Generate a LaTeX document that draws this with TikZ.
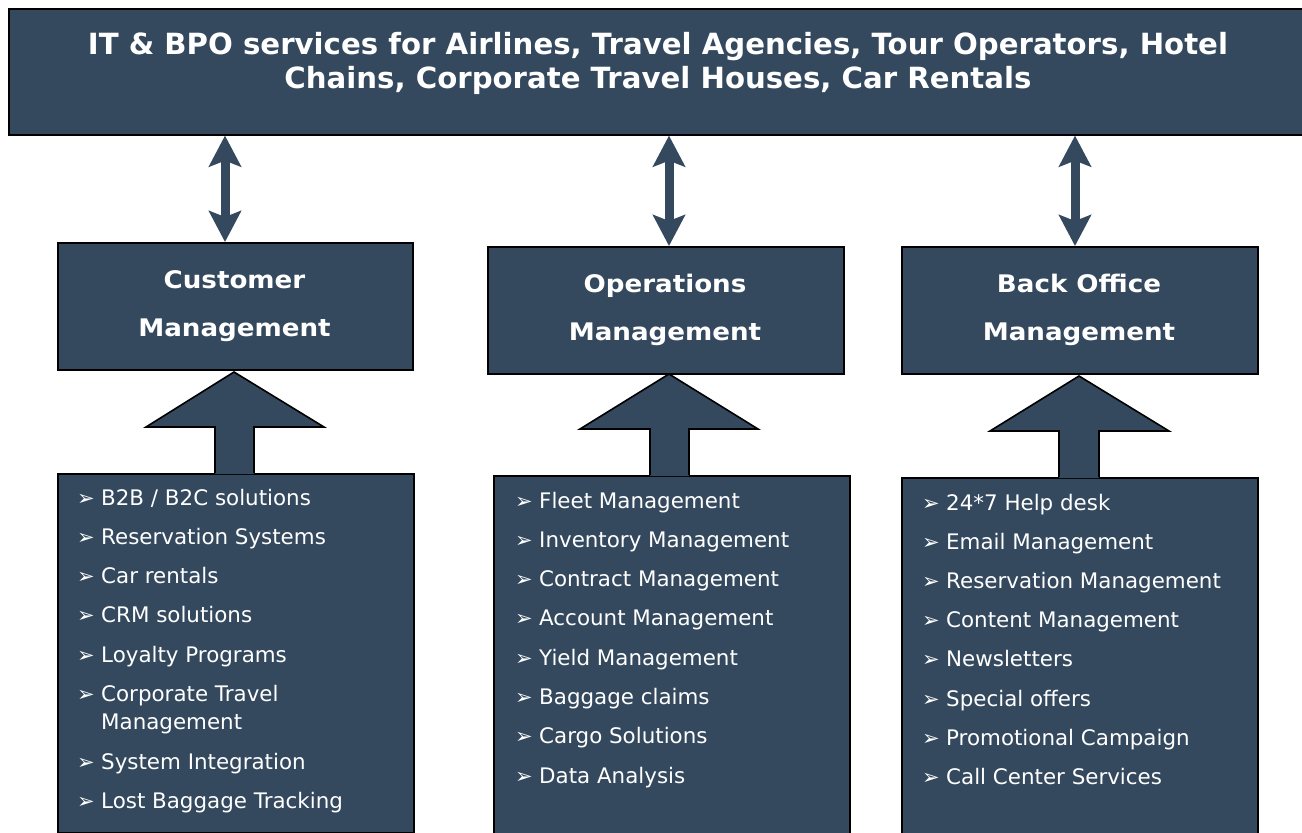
\documentclass[tikz,border=0pt]{standalone}
\usepackage{fontspec}
\setmainfont{DejaVu Sans}
\newfontfamily\bulletfont{DejaVu Sans}
\newfontfamily\hdrfont[FakeStretch=1.08]{DejaVu Sans}
\usetikzlibrary{arrows.meta}
\definecolor{navy}{RGB}{52,73,94}
\begin{document}
\begin{tikzpicture}[x=1pt,y=-1pt,
  box/.style={draw=black, fill=navy, line width=1.6pt, inner sep=0pt, anchor=north west},
  titletext/.style={text=white, font=\bfseries\fontsize{29.2}{34}\selectfont, anchor=base, inner sep=0pt},
  hdrtext/.style={text=white, font=\hdrfont\bfseries\fontsize{24.2}{28}\selectfont, anchor=base, inner sep=0pt},
  itemtext/.style={text=white, font=\fontsize{21.4}{25}\selectfont, anchor=base west, inner sep=0pt},
  bul/.style={text=white, font=\bulletfont\fontsize{21}{24}\selectfont, anchor=base west, inner sep=0pt},
  dblarrow/.style={draw=navy, line width=9pt, {Stealth[length=31pt,width=32pt,inset=6pt]}-{Stealth[length=31pt,width=32pt,inset=6pt]}},
  blockfill/.style={fill=navy},
  blockline/.style={draw=black, line width=1.6pt, line join=miter}
]
\useasboundingbox (0,0) rectangle (1302,833);
\clip (0,0) rectangle (1302,833);

% banner
\node[box, minimum width=1300pt, minimum height=126pt] (banner) at (8,8) {};
\node[titletext] (t1) at (658,54) {IT \& BPO services for Airlines, Travel Agencies, Tour Operators, Hotel};
\node[titletext] (t2) at (658,88) {Chains, Corporate Travel Houses, Car Rentals};

% upper boxes
\node[box, minimum width=355pt, minimum height=127pt] (cust) at (57,242) {};
\node[box, minimum width=356pt, minimum height=127pt] (ops) at (487,246) {};
\node[box, minimum width=356pt, minimum height=127pt] (back) at (901,246) {};

\node[hdrtext] (ch1) at (234.5,288) {Customer};
\node[hdrtext] (ch2) at (234.5,336) {Management};
\node[hdrtext] (oh1) at (665,292) {Operations};
\node[hdrtext] (oh2) at (665,340) {Management};
\node[hdrtext] (bh1) at (1079,292) {Back Office};
\node[hdrtext] (bh2) at (1079,340) {Management};

% double arrows
\coordinate (ax1) at (225,0);
\coordinate (ax2) at (669,0);
\coordinate (ax3) at (1075,0);
\draw[dblarrow] (banner.south -| ax1) -- (cust.north -| ax1);
\draw[dblarrow] (banner.south -| ax2) -- (ops.north -| ax2);
\draw[dblarrow] (banner.south -| ax3) -- (back.north -| ax3);

% lower list boxes
\node[box, minimum width=356pt, minimum height=359pt] (custlist) at (57,473) {};
\node[box, minimum width=356pt, minimum height=380pt] (opslist) at (493,475) {};
\node[box, minimum width=356pt, minimum height=380pt] (backlist) at (901,477) {};

% block arrows
\fill[blockfill] (215,474) -- (215,427) -- (146,427) -- (234,372) -- (324,427) -- (254,427) -- (254,474) -- cycle;
\draw[blockline] (215,473) -- (215,427) -- (146,427) -- (234,372) -- (324,427) -- (254,427) -- (254,473);
\fill[blockfill] (650,476) -- (650,429) -- (580,429) -- (669,374) -- (758,429) -- (689,429) -- (689,476) -- cycle;
\draw[blockline] (650,475) -- (650,429) -- (580,429) -- (669,374) -- (758,429) -- (689,429) -- (689,475);
\fill[blockfill] (1059,478) -- (1059,431) -- (990,431) -- (1079,376) -- (1169,431) -- (1099,431) -- (1099,478) -- cycle;
\draw[blockline] (1059,477) -- (1059,431) -- (990,431) -- (1079,376) -- (1169,431) -- (1099,431) -- (1099,477);

% customer list
\foreach \y/\t [count=\i] in {505/{B2B / B2C solutions}, 544.3/{Reservation Systems}, 583.6/{Car rentals}, 622.9/{CRM solutions}, 662.2/{Loyalty Programs}, 701.5/{Corporate Travel}, 769/{System Integration}, 808.3/{Lost Baggage Tracking}}{
  \node[bul] (cb\i) at (77,\y) {➢};
  \node[itemtext] (ci\i) at (101,\y) {\t};
}
\node[itemtext] (ci9) at (101,729.5) {Management};

% operations list
\foreach \y/\t [count=\i] in {508/{Fleet Management}, 547.3/{Inventory Management}, 586.6/{Contract Management}, 625.9/{Account Management}, 665.2/{Yield Management}, 704.5/{Baggage claims}, 743.8/{Cargo Solutions}, 783.1/{Data Analysis}}{
  \node[bul] (ob\i) at (515,\y) {➢};
  \node[itemtext] (oi\i) at (539,\y) {\t};
}

% back office list
\foreach \y/\t [count=\i] in {510/{24*7 Help desk}, 549.2/{Email Management}, 588.4/{Reservation Management}, 627.6/{Content Management}, 666.8/{Newsletters}, 706/{Special offers}, 745.2/{Promotional Campaign}, 784.4/{Call Center Services}}{
  \node[bul] (bb\i) at (922,\y) {➢};
  \node[itemtext] (bi\i) at (946,\y) {\t};
}
\end{tikzpicture}
\end{document}
